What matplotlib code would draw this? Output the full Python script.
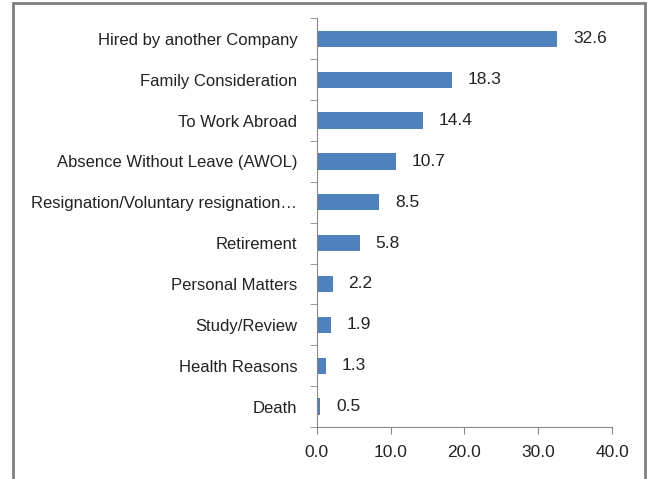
import matplotlib
matplotlib.use("Agg")
import matplotlib.pyplot as plt
from matplotlib.patches import Rectangle

categories = ["Hired by another Company", "Family Consideration", "To Work Abroad",
              "Absence Without Leave (AWOL)", "Resignation/Voluntary resignation…",
              "Retirement", "Personal Matters", "Study/Review", "Health Reasons", "Death"]
values = [32.6, 18.3, 14.4, 10.7, 8.5, 5.8, 2.2, 1.9, 1.3, 0.5]
xticks = [0, 10, 20, 30, 40]

plt.rcParams['font.family'] = ['Liberation Sans Narrow', 'Liberation Sans', 'DejaVu Sans']

fig = plt.figure(figsize=(6.49, 4.79), dpi=100)
ax = fig.add_axes([0.488, 0.1086, 0.455, 0.853])
pos = list(range(len(categories)))
ax.barh(pos, values, height=0.4, color="#4F81BD")
ax.set_ylim(len(categories) - 0.5, -0.5)
ax.set_xlim(0, 40)
ax.set_xticks(xticks)
ax.set_xticklabels([f"{v:.1f}" for v in xticks], fontsize=12.5, color="#222222")
ax.set_yticks(pos)
ax.set_yticklabels(categories, fontsize=12, color="#222222")
ax.set_yticks([p + 0.5 for p in [-1] + pos], minor=True)
ax.tick_params(axis='y', which='major', length=0, pad=14)
ax.tick_params(axis='y', which='minor', length=5, color="#888888", direction='out')
ax.tick_params(axis='x', length=5, color="#888888", direction='out', pad=8)
for s in ['top', 'right']:
    ax.spines[s].set_visible(False)
for s in ['left', 'bottom']:
    ax.spines[s].set_color("#888888")
for p, v in zip(pos, values):
    ax.text(v + 2.1, p, f"{v:.1f}", va='center', ha='left', fontsize=12.5, color="#222222")

fig.patches.append(Rectangle((13 / 649, -0.05), (645 - 13) / 649, 1.05 - 3 / 479,
                             transform=fig.transFigure, fill=False,
                             edgecolor="#7F7F7F", linewidth=2))
fig.savefig("out.png", dpi=100)
